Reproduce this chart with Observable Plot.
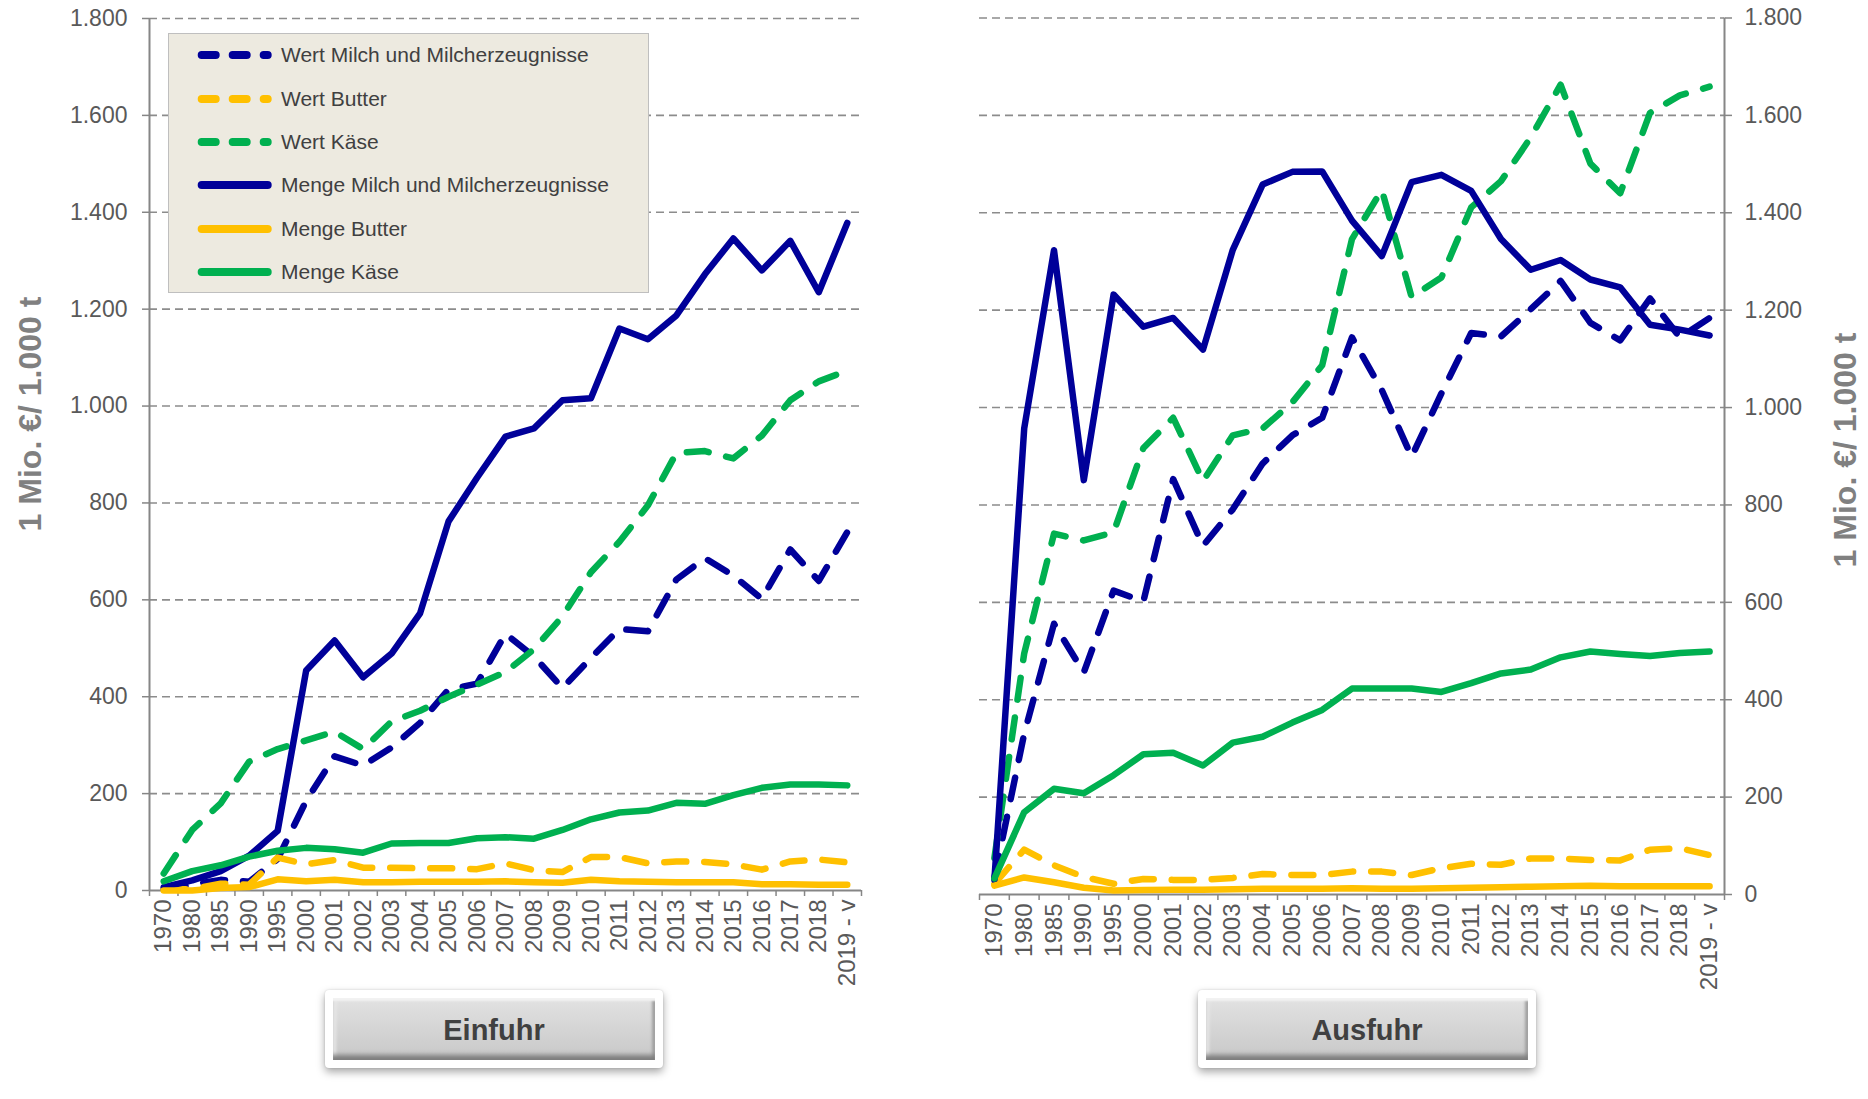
<!DOCTYPE html>
<html>
<head>
<meta charset="utf-8">
<script src="https://cdn.jsdelivr.net/npm/d3@7"></script>
<script src="https://cdn.jsdelivr.net/npm/@observablehq/plot@0.6"></script>
<style>
  html, body { margin: 0; padding: 0; background: #fff; }
  body { width: 1868px; height: 1099px; position: relative; overflow: hidden;
         font-family: "Liberation Sans", Arial, sans-serif; }
  .abs { position: absolute; }
  .ytitle { position: absolute; white-space: nowrap; font-weight: bold; font-size: 32px;
            color: #808080; transform: translate(-50%, -50%) rotate(-90deg); }
  .legend { position: absolute; box-sizing: border-box; background: #EDEAE0;
            border: 1.5px solid #BFBFBF; }
  .ltext { position: absolute; font-size: 21px; color: #404040; white-space: nowrap;
           transform: translateY(-50%); }
  .btnframe { position: absolute; background: #fff; border-radius: 4px;
              box-shadow: 0 4px 8px rgba(0,0,0,0.35), 0 0 2px rgba(0,0,0,0.15); }
  .btn { position: absolute; left: 8px; top: 8px; right: 8px; bottom: 8px;
         background: linear-gradient(#e2e2e2, #d2d2d2 60%, #c8c8c8);
         box-shadow: inset 0 4px 2px -1px #f2f2f2, inset 0 -7px 5px -2px #7c7c7c,
                     inset 5px 0 3px -2px #ededed, inset -5px 0 3px -2px #a4a4a4;
         display: flex; align-items: center; justify-content: center;
         font-weight: bold; font-size: 29px; color: #404040; padding-top: 2px; box-sizing: border-box; }
</style>
</head>
<body>
<div id="left" class="abs" style="left:0;top:0;width:900px;height:1000px"></div>
<div id="right" class="abs" style="left:934px;top:0;width:934px;height:1000px"></div>
<div id="legend" class="legend" style="left:168px;top:33px;width:481px;height:260px"></div>
<div class="ytitle" style="left:30px;top:414px">1 Mio. €/ 1.000 t</div>
<div class="ytitle" style="left:1845px;top:450px">1 Mio. €/ 1.000 t</div>
<div class="btnframe" style="left:325px;top:990px;width:338px;height:78px"><div class="btn">Einfuhr</div></div>
<div class="btnframe" style="left:1198px;top:990px;width:338px;height:78px"><div class="btn">Ausfuhr</div></div>
<script>
// ---------- data ----------
const years = ["1970","1980","1985","1990","1995","2000","2001","2002","2003","2004","2005","2006",
  "2007","2008","2009","2010","2011","2012","2013","2014","2015","2016","2017","2018","2019 - v"];
const yTicks = [0, 200, 400, 600, 800, 1000, 1200, 1400, 1600, 1800];

const seriesNames = ["Wert Milch und Milcherzeugnisse", "Wert Butter", "Wert Käse",
  "Menge Milch und Milcherzeugnisse", "Menge Butter", "Menge Käse"];
const seriesColors = ["#000099", "#FFC000", "#00B050", "#000099", "#FFC000", "#00B050"];
const seriesDashed = [true, true, true, false, false, false];

// Einfuhr (import)
const einWertMilch = [3, 12, 22, 18, 65, 185, 277, 258, 295, 346, 415, 427, 530, 483, 418, 480, 540, 535, 642, 686, 650, 602, 704, 639, 740];
const einWertButter = [2, 3, 14, 12, 68, 54, 63, 47, 47, 46, 46, 44, 56, 42, 38, 69, 69, 56, 60, 59, 54, 43, 60, 64, 58];
const einWertKaese = [35, 125, 180, 266, 292, 310, 328, 292, 349, 371, 400, 425, 451, 498, 566, 657, 720, 795, 903, 907, 892, 939, 1012, 1051, 1073];
const einMengeMilch = [7, 21, 40, 72, 123, 454, 516, 440, 489, 572, 762, 852, 937, 954, 1012, 1016, 1160, 1138, 1187, 1272, 1346, 1280, 1341, 1235, 1378];
const einMengeButter = [0, 0, 5, 7, 23, 19, 22, 17, 17, 18, 18, 18, 19, 17, 16, 22, 19, 18, 17, 17, 17, 13, 13, 12, 12];
const einMengeKaese = [19, 40, 52, 70, 82, 88, 85, 78, 97, 98, 98, 108, 110, 107, 125, 147, 161, 165, 181, 179, 197, 212, 219, 219, 217];

// Ausfuhr (export)
const ausWertMilch = [35, 330, 556, 456, 624, 602, 853, 716, 791, 885, 943, 979, 1144, 1036, 899, 1029, 1153, 1146, 1202, 1260, 1174, 1138, 1224, 1144, 1184];
const ausWertButter = [22, 92, 60, 36, 22, 32, 30, 30, 34, 42, 40, 40, 47, 47, 40, 54, 63, 61, 74, 74, 71, 70, 92, 95, 81];
const ausWertKaese = [75, 495, 741, 727, 744, 917, 979, 849, 943, 957, 1011, 1087, 1346, 1447, 1227, 1267, 1411, 1465, 1555, 1663, 1501, 1440, 1605, 1641, 1659];
const ausMengeMilch = [30, 957, 1323, 851, 1232, 1166, 1184, 1119, 1324, 1458, 1484, 1485, 1384, 1311, 1463, 1478, 1445, 1346, 1283, 1303, 1263, 1247, 1170, 1160, 1148];
const ausMengeButter = [18, 35, 25, 14, 8, 9, 10, 10, 11, 12, 12, 12, 13, 12, 12, 13, 14, 15, 16, 17, 18, 17, 17, 17, 17];
const ausMengeKaese = [33, 169, 217, 208, 245, 288, 291, 265, 312, 324, 353, 379, 423, 423, 423, 416, 434, 454, 462, 487, 499, 494, 490, 496, 499];

// ---------- drawing ----------
const fmt = d => d3.format(",")(d).replace(/,/g, ".");
const axisGray = "#868686";
const xDomain = [-0.5, years.length - 0.5];

function makeChart(seriesArrays, side) {
  const marks = [];
  marks.push(Plot.ruleY(yTicks.filter(t => t > 0), {y: d => d, stroke: "#8c8c8c", strokeWidth: 1.6, strokeDasharray: "8,5"}));
  marks.push(Plot.ruleX([side === "left" ? xDomain[0] : xDomain[1]], {x: d => d, stroke: axisGray, strokeWidth: 2}));
  marks.push(Plot.ruleY([0], {y: d => d, stroke: axisGray, strokeWidth: 2}));
  marks.push(Plot.axisX(d3.range(xDomain[0], xDomain[1] + 0.01, 1), {
    tickSize: 6, tickFormat: () => "", stroke: axisGray, strokeWidth: 1.5, label: null
  }));
  marks.push(Plot.axisX(d3.range(years.length), {
    tickSize: 0, tickPadding: 9, tickRotate: -90, tickFormat: i => years[i],
    fontSize: 24, label: null
  }));
  marks.push(Plot.axisY(yTicks, {
    anchor: side, tickSize: 7, tickPadding: side === "left" ? 15 : 13, tickFormat: fmt,
    fontSize: 23, stroke: axisGray, strokeWidth: 1.5, label: null
  }));
  seriesArrays.forEach((arr, k) => {
    const rows = arr.map((v, i) => ({i, v}));
    marks.push(Plot.line(rows, {
      x: "i", y: "v", stroke: seriesColors[k], strokeWidth: 6.5,
      strokeDasharray: seriesDashed[k] ? "22,18" : null,
      strokeLinecap: "round", strokeLinejoin: "round"
    }));
  });
  const common = {
    x: {domain: xDomain},
    y: {domain: [0, 1800]},
    style: {fontFamily: "Liberation Sans, Arial, sans-serif", color: "#595959",
            background: "transparent", overflow: "visible", maxWidth: "none"},
    marks
  };
  if (side === "left") {
    return Plot.plot({...common, width: 900, height: 1000, marginLeft: 149, marginRight: 39, marginTop: 18, marginBottom: 110});
  } else {
    return Plot.plot({...common, width: 934, height: 1000, marginLeft: 45, marginRight: 144, marginTop: 17.5, marginBottom: 106});
  }
}

document.getElementById("left").appendChild(makeChart(
  [einWertMilch, einWertButter, einWertKaese, einMengeMilch, einMengeButter, einMengeKaese], "left"));
document.getElementById("right").appendChild(makeChart(
  [ausWertMilch, ausWertButter, ausWertKaese, ausMengeMilch, ausMengeButter, ausMengeKaese], "right"));

// ---------- legend ----------
const legend = document.getElementById("legend");
const rowY = [21, 65, 108, 151, 194.5, 237.5];
seriesNames.forEach((name, k) => {
  const ns = "http://www.w3.org/2000/svg";
  const svg = document.createElementNS(ns, "svg");
  svg.setAttribute("width", 80); svg.setAttribute("height", 16);
  svg.style.position = "absolute"; svg.style.left = "24px"; svg.style.top = (rowY[k] - 8) + "px";
  const ln = document.createElementNS(ns, "line");
  ln.setAttribute("x1", 8.7); ln.setAttribute("x2", 74.7);
  ln.setAttribute("y1", 8); ln.setAttribute("y2", 8);
  ln.setAttribute("stroke", seriesColors[k]); ln.setAttribute("stroke-width", 8);
  ln.setAttribute("stroke-linecap", "round");
  if (seriesDashed[k]) ln.setAttribute("stroke-dasharray", "14,17");
  svg.appendChild(ln);
  legend.appendChild(svg);
  const t = document.createElement("div");
  t.className = "ltext"; t.style.left = "112px"; t.style.top = rowY[k] + "px";
  t.textContent = name;
  legend.appendChild(t);
});
</script>
</body>
</html>
